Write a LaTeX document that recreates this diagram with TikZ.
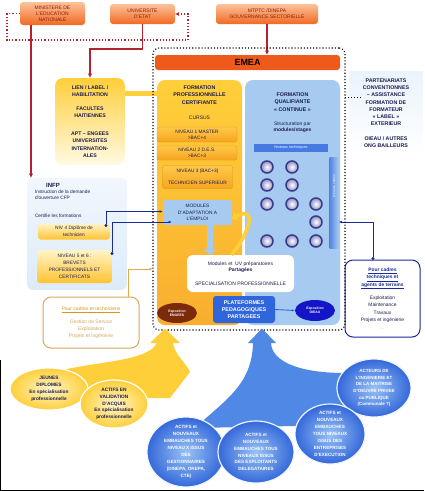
\documentclass[tikz,border=0pt]{standalone}
\usepackage{fontspec}
\setmainfont{Liberation Sans}
\usetikzlibrary{arrows.meta,shapes.geometric,calc}
\definecolor{orgL}{HTML}{FCC29A}
\definecolor{orgD}{HTML}{F06A22}
\definecolor{emeaD}{HTML}{EE5A1C}
\definecolor{emeaL}{HTML}{F8A068}
\definecolor{redln}{HTML}{B3232B}
\definecolor{txtred}{HTML}{8A1C14}
\definecolor{yelD}{HTML}{FFCF3A}
\definecolor{yelL}{HTML}{FFF5C8}
\definecolor{orgY}{HTML}{F9AE2E}
\definecolor{navy}{HTML}{1C1C50}
\definecolor{blueL}{HTML}{DDEBFA}
\definecolor{blueM}{HTML}{A6CAF0}
\definecolor{blueD}{HTML}{2F66DC}
\definecolor{blueE}{HTML}{3468DA}
\definecolor{blueI}{HTML}{98C2F4}
\definecolor{blueF}{HTML}{5088E6}
\definecolor{blueV}{HTML}{1515C8}
\definecolor{navyB}{HTML}{1A2A9A}
\definecolor{tanc}{HTML}{D4A85A}
\definecolor{goldc}{HTML}{D8961C}
\definecolor{brownE}{HTML}{7B2B0C}
\definecolor{subT}{HTML}{FFC848}
\definecolor{subB}{HTML}{F7A41F}
\definecolor{ballD}{HTML}{3A3A8A}
\definecolor{ballM}{HTML}{9090C8}
\newcommand\fsz[2]{\fontsize{#1}{#2}\selectfont}
\begin{document}
\begin{tikzpicture}[x=1pt,y=-1pt,
 every node/.style={inner sep=0pt, outer sep=0pt},
 topbox/.style={rounded corners=3pt, top color=orgL, bottom color=orgD, text=txtred, font=\fsz{5}{6}, align=center},
 redarrow/.style={draw=redln, line width=1.3pt, -{Latex[length=4.5pt,width=4.5pt]}},
 reddot/.style={draw=redln, line width=1.2pt, dotted},
 bnavy/.style={font=\bfseries\fsz{5.3}{7.3}, text=navy, align=center},
 plain/.style={font=\fsz{5}{6.5}, text=navy, align=center},
 subbox/.style={rounded corners=2pt, top color=subT, bottom color=subB, draw=subB!90!black, line width=0.3pt, font=\fsz{4.8}{6}, text=navy, align=center},
 modbox/.style={rounded corners=3pt, fill=blueM, font=\fsz{4.8}{6.3}, text=navy, align=center},
 yelbox/.style={rounded corners=3pt, top color=yelL, bottom color=yelD!85!orange, font=\fsz{4.8}{6.8}, text=navy, align=center},
 ball/.style={circle, minimum size=12pt, inner color=white, outer color=ballM, draw=ballD, line width=1.5pt},
 yelell/.style={ellipse, draw=white, line width=1.2pt, inner color=yelL, outer color=yelD},
 blueell/.style={ellipse, draw=white!80!blueM, line width=1.2pt, inner color=blueI, outer color=blueE},
 ytext/.style={font=\bfseries\fsz{4.8}{6.8}, text=navy, align=center},
 btext/.style={font=\bfseries\fsz{4.6}{6.9}, text=white, align=center},
 navyline/.style={draw=navyB, line width=0.9pt}
]
\useasboundingbox (0,0) rectangle (424,491);

% ---------- top institutions ----------
\node[topbox, minimum width=65pt, minimum height=23pt] (mini) at (52.5,13.5) {MINISTERE DE\\L'EDUCATION\\NATIONALE};
\node[topbox, minimum width=65pt, minimum height=20pt] (univ) at (142.5,14) {UNIVERSITE\\D'ETAT};
\node[topbox, minimum width=102pt, minimum height=20pt] (mtptc) at (267,14) {MTPTC /DINEPA\\GOUVERNANCE SECTORIELLE};

% ---------- right partner background ----------
\node[top color=blueL!60!white, bottom color=white, minimum width=74pt, minimum height=84pt] (partbg) at (386,113) {};

% ---------- main blocks ----------
\node[rounded corners=8pt, top color=yelD, middle color=yelL, bottom color=orgY, minimum width=85pt, minimum height=245pt] (fcert) at (199.5,202.5) {};
\node[rounded corners=8pt, top color=blueM, middle color=white, bottom color=blueM, minimum width=95pt, minimum height=245pt] (fqual) at (292.5,202.5) {};

\node[rounded corners=3pt, top color=emeaD, middle color=emeaL, bottom color=emeaD, minimum width=185pt, minimum height=15pt, font=\bfseries\fsz{9}{10}] (emea) at (247.5,62.5) {EMEA};

% LIEN box
\node[rounded corners=8pt, top color=yelD, bottom color=yelL!50!white, minimum width=70pt, minimum height=87pt, font=\bfseries\fsz{5.2}{7.5}, text=navy, align=center] (lien) at (90,121.5)
 {LIEN / LABEL /\\HABILITATION\\[6pt]FACULTES\\HAITIENNES\\[10pt]APT -- ENGEES\\UNIVERSITES\\INTERNATION-\\ALES};
\draw[yelD, line width=5pt] ([yshift=28.5pt]lien.east) -- ([yshift=28.5pt]lien.east -| fcert.west);

% formation certifiante contents
\node[bnavy] (fpc) at (199.5,95) {FORMATION\\PROFESSIONNELLE\\CERTIFIANTE};
\node[plain] (cursus) at (199.5,118) {CURSUS};
\node[subbox, minimum width=80pt, minimum height=15pt] (n1) at (197,134.5) {NIVEAU 1 MASTER\\>BAC+4};
\node[subbox, minimum width=80pt, minimum height=14pt] (n2) at (197,153) {NIVEAU 2 D.E.S.\\>BAC+3};
\node[subbox, minimum width=70pt, minimum height=23pt] (n3) at (197.5,177) {NIVEAU 3 (BAC+3)\\[6pt]TECHNICIEN SUPERIEUR};
\node[modbox, minimum width=69pt, minimum height=25pt] (mod) at (197.5,212.5) {MODULES\\D'ADAPTATION A\\L'EMPLOI};

% formation qualifiante contents
\node[bnavy] (fqc) at (292.5,102) {FORMATION\\QUALIFIANTE\\« CONTINUE »};
\node[plain] (struct) at (292.5,127) {Structuration par\\\textbf{modules/stages}};
\node[fill=blueD!80!blueM, minimum width=74pt, minimum height=8pt, font=\fsz{3.8}{4}, text=white!85!blueM] (nivT) at (291,148) {Niveaux techniques};
\node[left color=blueD!70!blueM, right color=blueM, minimum width=9pt, minimum height=91pt] (vb) at (334,202.5) {};
\node[rotate=90, font=\fsz{3.3}{4}, text=white!85!blueM] (vbt) at (334,186) {Niveaux cadres};

\foreach \cx/\cy [count=\i] in {267/167,292/167,267/185,292/185,267/204,292/204,316/204,316/222,267/241,292/241,316/241}
  \node[ball] (b\i) at (\cx,\cy) {};

% white box
\node[rounded corners=6pt, fill=white, minimum width=107pt, minimum height=37pt, font=\fsz{5}{6.5}, text=navy, align=center] (uv) at (240.5,273.5)
 {Modules et~ UV préparatoires\\\textbf{Partagées}\\[7pt]SPECIALISATION PROFESSIONNELLE};

% arrows in center
\draw[blueM, line width=6pt, -{Triangle[length=6pt,width=13pt]}] ([xshift=12.5pt]mod.south) -- ([xshift=12.5pt]mod.south |- uv.north);
\draw[yelD, line width=3.5pt, -{Triangle[length=5pt,width=9pt]}] ([xshift=-9pt]uv.north) .. controls (250,232) and (258,205) .. ([yshift=-6pt]mod.east);

% plateformes and expositions
\node[rounded corners=3pt, fill=blueD, minimum width=62pt, minimum height=27pt, font=\bfseries\fsz{5.4}{7}, text=white, align=center] (plat) at (244,309.5) {PLATEFORMES\\PEDAGOGIQUES\\PARTAGEES};
\node[ellipse, fill=blueV, minimum width=40pt, minimum height=21pt, font=\bfseries\fsz{3.4}{4.4}, text=white, align=center] (expoO) at (315,310.5) {Exposition\\OIEAU};
\node[ellipse, fill=brownE, minimum width=40pt, minimum height=20pt, font=\bfseries\fsz{3.4}{4.4}, text=white, align=center] (expoE) at (177,313) {Exposition\\ENGEES};
\draw[blueD, line width=0.9pt, -{Latex[length=3pt]}] (plat.east) -- (expoO.west);

% ---------- INFP ----------
\node[rounded corners=6pt, top color=blueL!40!white, middle color=blueM, bottom color=blueL, minimum width=100pt, minimum height=112pt] (infp) at (77,234) {};
\node[font=\bfseries\fsz{6}{7}, text=navy] (infpt) at (53,185) {INFP};
\node[anchor=west, font=\fsz{4.8}{6}, text=navy, align=left] (instr) at (35,194.5) {Instruction de la demande\\d'ouverture CFP};
\node[anchor=west, font=\fsz{4.8}{6}, text=navy] (certif) at (35,216) {Certifie les formations};
\node[yelbox, minimum width=72pt, minimum height=16pt] (niv4) at (74,231.5) {NIV 4 Diplôme de\\technicien};
\node[yelbox, minimum width=75pt, minimum height=33pt] (niv5) at (74.5,266.5) {NIVEAU 5 et 6 :\\BREVETS\\PROFESSIONNELS ET\\CERTIFICATS};

\draw[navyline, {Circle[length=3pt]}-{Latex[length=3.5pt]}] ([xshift=-4pt,yshift=4.5pt]niv4.east) |- ([yshift=1pt]mod.west);
\draw[navyline, {Circle[length=3pt]}-{Latex[length=3.5pt]}] ([yshift=11.5pt]niv5.east) |- ([xshift=9pt,yshift=-9.5pt]mod.west);

% ---------- right side ----------
\node[bnavy] (part) at (386,113) {PARTENARIATS\\CONVENTIONNES\\-- ASSISTANCE\\FORMATION DE\\FORMATEUR\\« LABEL »\\EXTERIEUR\\[7pt]OIEAU / AUTRES\\ONG BAILLEURS};

\node[draw=navyB, line width=1pt, rounded corners=8pt, fill=white, minimum width=75pt, minimum height=77pt, font=\fsz{4.9}{7.4}, text=navy, align=center] (cadT) at (382.5,298.5)
 {\textcolor{navyB}{\bfseries\underline{Pour cadres}}\\\textcolor{navyB}{\bfseries\underline{techniques et}}\\\textcolor{navyB}{\bfseries\underline{agents de terrains}}\\[6pt]Exploitation\\Maintenance\\Travaux\\Projets et ingénierie\\{\color{gray!60}\fsz{3}{4}----}};
\draw[navyline, {Latex[length=3.5pt]}-{Circle[length=3pt]}] ([yshift=-19.5pt]vb.east) -| ([xshift=-9.5pt]cadT.north);

% ---------- left lower box ----------
\node[draw=tanc, line width=1pt, rounded corners=8pt, fill=white, minimum width=96pt, minimum height=51pt, font=\fsz{5}{7}, text=tanc, align=center] (pct) at (91,322.5)
 {\textcolor{goldc}{\underline{Pour cadres et techniciens}}\\[6pt]Gestion de Service\\Exploitation\\Projets et ingénierie};

% ---------- red links ----------
\draw[reddot, -{Latex[length=4pt,width=4pt]}] (mini.west) -- (7,13.5) -- (7,40) -- (188,40) -- (188,14) -- (univ.east);
\draw[redarrow] ([xshift=-21.5pt]mini.south) -- ([xshift=-21.5pt]mini.south |- infp.north);
\draw[redarrow] (univ.south) -- ++(0,25) -| (lien.north);
\draw[redarrow] (mtptc.south) -- (mtptc.south |- emea.north);

% ---------- EMEA frame ----------
\node[draw=black, dotted, line width=1.1pt, rounded corners=6pt, minimum width=192pt, minimum height=282pt] (frame) at (249,189) {};
\draw[dotted, line width=1pt] ([yshift=92pt]frame.east) -- ([yshift=92pt]frame.east -| part.west);
\draw[goldc!80!white, line width=1pt, -{Latex[length=3.5pt]}] ([xshift=37pt]pct.north) |- ([yshift=-80pt]frame.west);

% ---------- funnels ----------
\fill[yelD] (157,343) -- (150,343) -- (165,328.5) -- (180,343) -- (173,343)
  .. controls (175,356) and (186,362) .. (190,372) -- (170,398) -- (60,398) -- (35,380)
  .. controls (70,360) and (145,366) .. (157,343) -- cycle;
\fill[blueF] (253,343) -- (248,343) -- (262,328.5) -- (276,343) -- (271,343)
  .. controls (272,362) and (300,373) .. (345,373) -- (345,425) -- (195,428)
  .. controls (225,400) and (252,385) .. (253,343) -- cycle;

% ---------- yellow ellipses ----------
\node[yelell, minimum width=78pt, minimum height=42pt] (jeunes) at (49,389) {};
\node[ytext] at (jeunes) {JEUNES\\DIPLOMES\\En spécialisation\\professionnelle};
\node[yelell, minimum width=68pt, minimum height=48pt] (actifs) at (114,404) {};
\node[ytext] at (actifs) {ACTIFS EN\\VALIDATION\\D'ACQUIS\\En spécialisation\\professionnelle};

% ---------- blue ellipses ----------
\node[blueell, minimum width=74pt, minimum height=58pt] (acteurs) at (374,388) {};
\node[btext, font=\bfseries\fsz{4.5}{6.6}] at (acteurs) {ACTEURS DE\\L'INGENIERIE ET\\DE LA MAITRISE\\D'OEUVRE PRIVEE\\ou PUBLIQUE\\(Communale ?)};
\node[blueell, minimum width=70pt, minimum height=60pt] (entr) at (330,434) {};
\node[btext] at (entr) {ACTIFS et\\NOUVEAUX\\EMBAUCHES\\TOUS NIVEAUX\\ISSUS DES\\ENTREPRISES\\D'EXECUTION};
\node[blueell, minimum width=78pt, minimum height=70pt] (gest) at (186,452) {};
\node[btext] at (gest) {ACTIFS et\\NOUVEAUX\\EMBAUCHES TOUS\\NIVEAU X ISSUS\\DES\\GESTIONNAIRES\\(DINEPA, OREPA,\\CTE)};
\node[blueell, minimum width=76pt, minimum height=62pt] (expl) at (256,452) {};
\node[btext] at (expl) {ACTIFS et\\NOUVEAUX\\EMBAUCHES TOUS\\NIVEAUX ISSUS\\DES EXPLOITANTS\\DELEGATAIRES};

% ---------- picture border ----------
\draw[black, line width=1.2pt] (0.6,360) -- (0.6,490.4) -- (424,490.4);
\end{tikzpicture}
\end{document}
